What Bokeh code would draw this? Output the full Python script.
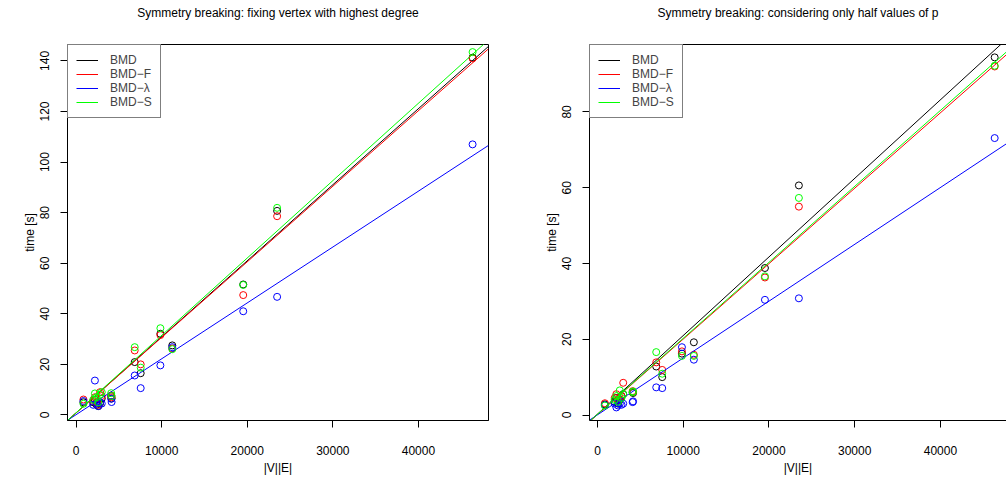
import numpy as np
from bokeh.plotting import figure
from bokeh.layouts import row
from bokeh.models import Range1d, FixedTicker, Legend, LegendItem, LinearAxis
from bokeh.embed import file_html
from bokeh.resources import INLINE

FONT = "Liberation Sans"

methods = ["BMD", "BMD\u2212F", "BMD\u2212\u03bb", "BMD\u2212S"]
colors = ["#000000", "#FF0000", "#0000FF", "#00FF00"]

# |V||E| of the instances
vxe = [860, 2000, 2200, 2400, 2600, 2800, 3000, 4100, 4150,
       6850, 7550, 9850, 11240, 19530, 23490, 46330]

# Left panel: fixing vertex with highest degree (time [s])
left_bmd    = [5.0, 5.0, 6.0, 4.0, 3.5, 4.5, 6.5, 7.5, 6.5, 20.9, 16.5, 32.1, 27.5, 51.6, 80.7, 141.3]
left_bmd_f  = [6.1, 5.5, 7.0, 5.0, 4.0, 9.0, 7.5, 7.7, 7.0, 25.5, 20.0, 31.6, 26.3, 47.4, 78.6, 141.0]
left_bmd_l  = [5.5, 4.0, 13.6, 4.5, 3.5, 5.0, 4.5, 6.4, 5.1, 15.6, 10.6, 19.6, 26.8, 41.0, 46.7, 107.0]
left_bmd_s  = [4.4, 6.0, 8.5, 7.0, 5.0, 8.0, 9.0, 8.6, 7.5, 26.8, 18.7, 34.3, 26.0, 51.4, 81.9, 143.5]

# Right panel: considering only half values of p (time [s])
right_bmd   = [2.8, 3.5, 4.5, 3.0, 4.0, 5.0, 5.5, 6.0, 5.8, 12.8, 10.0, 16.2, 19.2, 38.8, 60.6, 94.4]
right_bmd_f = [3.1, 4.5, 5.5, 4.0, 4.5, 5.0, 8.5, 6.3, 6.0, 13.9, 11.9, 16.8, 15.9, 36.3, 55.0, 92.0]
right_bmd_l = [2.6, 3.0, 2.0, 2.5, 3.0, 2.7, 3.0, 3.4, 3.6, 7.3, 7.1, 17.9, 14.6, 30.4, 30.8, 73.1]
right_bmd_s = [2.5, 4.0, 5.0, 3.5, 6.5, 4.5, 5.5, 6.0, 6.2, 16.6, 10.9, 15.6, 15.6, 36.6, 57.3, 92.2]

# Fitted regression lines (intercept, slope) per method
left_intercept  = [0.8, 0.8, 0.1, 0.86]
left_slope      = [0.003008, 0.002988, 0.00221, 0.00306]
right_intercept = [0.24, 0.13, 0.05, 0.2]
right_slope     = [0.002074, 0.001991, 0.0015, 0.002005]

xticks = [0, 10000, 20000, 30000, 40000]
left_yticks = [0, 20, 40, 60, 80, 100, 120, 140]
right_yticks = [0, 20, 40, 60, 80]


def make_panel(title, series, intercepts, slopes, yticks, xr, yr, width, bl, br, box):
    p = figure(width=width, height=480, output_backend="svg", toolbar_location=None,
               x_range=Range1d(*xr), y_range=Range1d(*yr),
               min_border_left=bl, min_border_right=br, min_border_top=44, min_border_bottom=60)
    p.title.visible = False
    p.grid.visible = False
    p.background_fill_color = "white"
    p.border_fill_color = "white"

    xa = p.below[0]
    ya = p.left[0]
    xa.ticker = FixedTicker(ticks=xticks)
    ya.ticker = FixedTicker(ticks=yticks)
    # tickless top axis: frame top edge, carries the panel title
    top = LinearAxis(ticker=FixedTicker(ticks=[]),
                     axis_line_color=None if box else "black",
                     major_tick_out=0, major_tick_in=0, major_label_standoff=0,
                     minor_tick_out=0, minor_tick_line_color=None,
                     axis_label=title, axis_label_standoff=25)
    p.add_layout(top, "above")
    for ax in (xa, ya, top):
        ax.major_tick_line_color = "black"
        ax.minor_tick_line_color = None
        ax.major_label_text_font = FONT
        ax.major_label_text_font_size = "12px"
        ax.major_label_text_color = "black"
        ax.axis_label_text_font = FONT
        ax.axis_label_text_font_size = "12px"
        ax.axis_label_text_font_style = "normal"
        ax.axis_label_text_color = "black"
    for ax in (xa, ya):
        ax.axis_line_color = "black"
        ax.major_tick_out = 7
        ax.major_tick_in = 0
    xa.axis_label = "|V||E|"
    xa.major_label_standoff = 18
    xa.axis_label_standoff = 3
    ya.axis_label = "time [s]"
    ya.major_label_orientation = "vertical"
    ya.major_label_standoff = 11
    ya.axis_label_standoff = 1

    if box:
        p.outline_line_color = "black"
        p.outline_line_width = 1
    else:
        p.outline_line_color = None

    items = []
    for name, col, ys, a, b in zip(methods, colors, series, intercepts, slopes):
        p.scatter(vxe, ys, marker="circle", size=7, fill_color=None,
                  line_color=col, line_width=1)
        lx = np.array([xr[0], xr[1]])
        r = p.line(lx, a + b * lx, line_color=col, line_width=1)
        items.append(LegendItem(label=name, renderers=[r]))
    leg = Legend(items=items, location="top_left", margin=0, padding=8, spacing=0,
                 glyph_width=22, glyph_height=14, label_height=14, label_standoff=12,
                 label_text_font=FONT, label_text_font_size="12px",
                 border_line_color="black", border_line_width=1,
                 background_fill_color="white", background_fill_alpha=1)
    p.add_layout(leg)
    return p


p1 = make_panel("Symmetry breaking: fixing vertex with highest degree",
                [left_bmd, left_bmd_f, left_bmd_l, left_bmd_s],
                left_intercept, left_slope, left_yticks,
                (-1003, 48190), (-2.2, 146.5), 521, 67, 33, True)

p2 = make_panel("Symmetry breaking: considering only half values of p",
                [right_bmd, right_bmd_f, right_bmd_l, right_bmd_s],
                right_intercept, right_slope, right_yticks,
                (-933, 47708), (-1.45, 97.8), 485, 68, 0, False)

lay = row(p1, p2)
open("out.html", "w").write(file_html(lay, INLINE))
